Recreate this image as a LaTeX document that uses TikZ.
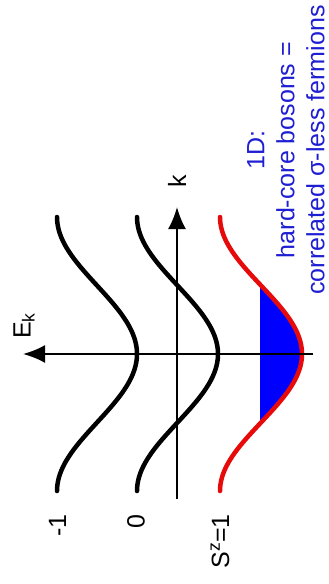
\documentclass[tikz,border=0pt]{standalone}
\usepackage{fontspec}
\setmainfont{Liberation Sans}
\usetikzlibrary{arrows.meta}
\definecolor{txtblue}{RGB}{30,30,210}
\definecolor{bandred}{RGB}{230,10,10}
\begin{document}
\begin{tikzpicture}[x=1pt,y=-1pt,
  band/.style={line width=4.5pt,line cap=round},
  axis/.style={line width=2pt,-{Latex[length=22pt,width=18pt]}},
  lbl/.style={rotate=90,inner sep=0pt,font=\fontsize{25}{30}\selectfont},
]
\useasboundingbox (0,0) rectangle (329,584);
% Fermi sea fill
\begin{scope}
  \clip (260,0) rectangle (329,584);
  \fill[blue] plot[domain=-137:137,samples=80] ({220+41*(1+cos(\x/137*180))},{354+\x}) -- cycle;
\end{scope}
% bands
\draw[band] plot[domain=-137:137,samples=80] ({57+40*(1+cos(\x/137*180))},{354+\x});
\draw[band] plot[domain=-137:137,samples=80] ({137+40.5*(1+cos(\x/137*180))},{354+\x});
\draw[band,bandred] plot[domain=-137:137,samples=80] ({220+41*(1+cos(\x/137*180))},{354+\x});
% axes
\coordinate (eR) at (313,354);
\coordinate (eL) at (23,354);
\coordinate (kB) at (177,499);
\coordinate (kT) at (177,207);
\draw[axis] (eR) -- (eL);
\draw[axis] (kB) -- (kT);
\node[lbl] (ek) at (24,326) {E\textsubscript{k}};
\node[lbl] (k) at (177,181) {k};
% band labels
\node[lbl,anchor=east] (m1) at (57.5,514) {-1};
\node[lbl,anchor=east] (z0) at (136,514) {0};
\node[lbl,anchor=east] (s1) at (220,514) {S\textsuperscript{z}=1};
% text
\node[lbl,txtblue,align=center] (txt) at (286,150) {1D:\\hard-core bosons =\\correlated σ-less fermions};
\end{tikzpicture}
\end{document}
